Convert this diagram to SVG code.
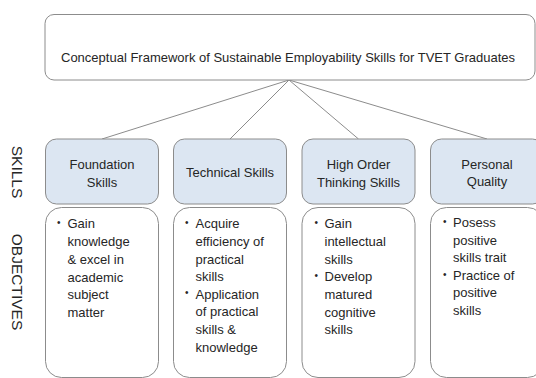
<svg xmlns="http://www.w3.org/2000/svg" width="536" height="378" viewBox="0 0 536 378">
  <style>
    .box { fill: #ffffff; stroke: #8c8c8c; stroke-width: 1; }
    .head { fill: #dce6f2; stroke: #8c8c8c; stroke-width: 1; }
    .t { font-family: "Liberation Sans", Arial, sans-serif; font-size: 13px; fill: #262626; }
    .c { text-anchor: middle; }
    .b { font-family: "Liberation Sans", Arial, sans-serif; font-size: 10px; fill: #262626; }
    .side { font-family: "Liberation Sans", Arial, sans-serif; font-size: 15.5px; fill: #262626; text-anchor: middle; }
    .link { stroke: #8c8c8c; stroke-width: 1; fill: none; }
  </style>
  <rect width="536" height="378" fill="#ffffff"/>

  <!-- connectors -->
  <g id="connectors">
    <line class="link" x1="289" y1="80" x2="102" y2="139"/>
    <line class="link" x1="289" y1="80" x2="230" y2="139"/>
    <line class="link" x1="289" y1="80" x2="358.5" y2="139"/>
    <line class="link" x1="289" y1="80" x2="487" y2="139"/>
  </g>

  <!-- root -->
  <g id="framework">
    <rect class="box" x="45" y="14.5" width="490" height="65.5" rx="9"/>
    <text class="t c" x="288" y="61.5" font-size="12.8">Conceptual Framework of Sustainable Employability Skills for TVET Graduates</text>
  </g>

  <!-- row labels -->
  <g id="row-labels">
    <text class="side" transform="translate(11.5,172) rotate(90)">SKILLS</text>
    <text class="side" transform="translate(11.5,282) rotate(90)">OBJECTIVES</text>
  </g>

  <!-- column 1 -->
  <g id="foundation">
    <rect class="head" x="45.5" y="139" width="113" height="65" rx="11"/>
    <text class="t c" x="102" y="169">Foundation</text>
    <text class="t c" x="102" y="187">Skills</text>
    <rect class="box" x="45.5" y="207.5" width="113" height="170" rx="16"/>
    <text class="b" x="57" y="226">•</text>
    <text class="t" x="67.5" y="228">Gain</text>
    <text class="t" x="67.5" y="246">knowledge</text>
    <text class="t" x="67.5" y="263.5">&amp; excel in</text>
    <text class="t" x="67.5" y="281.5">academic</text>
    <text class="t" x="67.5" y="299">subject</text>
    <text class="t" x="67.5" y="317">matter</text>
  </g>

  <!-- column 2 -->
  <g id="technical">
    <rect class="head" x="173.5" y="139" width="113" height="65" rx="11"/>
    <text class="t c" x="230" y="177">Technical Skills</text>
    <rect class="box" x="173.5" y="207.5" width="113" height="170" rx="16"/>
    <text class="b" x="185" y="226">•</text>
    <text class="t" x="195.5" y="228">Acquire</text>
    <text class="t" x="195.5" y="246">efficiency of</text>
    <text class="t" x="195.5" y="263.5">practical</text>
    <text class="t" x="195.5" y="281">skills</text>
    <text class="b" x="185" y="296">•</text>
    <text class="t" x="195.5" y="298.5">Application</text>
    <text class="t" x="195.5" y="316">of practical</text>
    <text class="t" x="195.5" y="334">skills &amp;</text>
    <text class="t" x="195.5" y="352">knowledge</text>
  </g>

  <!-- column 3 -->
  <g id="high-order">
    <rect class="head" x="302" y="139" width="113" height="65" rx="11"/>
    <text class="t c" x="358.5" y="168.5">High Order</text>
    <text class="t c" x="358.5" y="186.5">Thinking Skills</text>
    <rect class="box" x="302" y="207.5" width="113" height="170" rx="16"/>
    <text class="b" x="314.5" y="226">•</text>
    <text class="t" x="324.5" y="228">Gain</text>
    <text class="t" x="324.5" y="246">intellectual</text>
    <text class="t" x="324.5" y="263.5">skills</text>
    <text class="b" x="314.5" y="279">•</text>
    <text class="t" x="324.5" y="281">Develop</text>
    <text class="t" x="324.5" y="299">matured</text>
    <text class="t" x="324.5" y="316.5">cognitive</text>
    <text class="t" x="324.5" y="334">skills</text>
  </g>

  <!-- column 4 -->
  <g id="personal">
    <rect class="head" x="430.5" y="139" width="113" height="65" rx="11"/>
    <text class="t c" x="487" y="168.5">Personal</text>
    <text class="t c" x="487" y="186">Quality</text>
    <rect class="box" x="430.5" y="207.5" width="113" height="170" rx="16"/>
    <text class="b" x="443" y="224.5">•</text>
    <text class="t" x="453" y="226.5">Posess</text>
    <text class="t" x="453" y="244.5">positive</text>
    <text class="t" x="453" y="262">skills trait</text>
    <text class="b" x="443" y="277.5">•</text>
    <text class="t" x="453" y="279.5">Practice of</text>
    <text class="t" x="453" y="297">positive</text>
    <text class="t" x="453" y="315">skills</text>
  </g>
</svg>
